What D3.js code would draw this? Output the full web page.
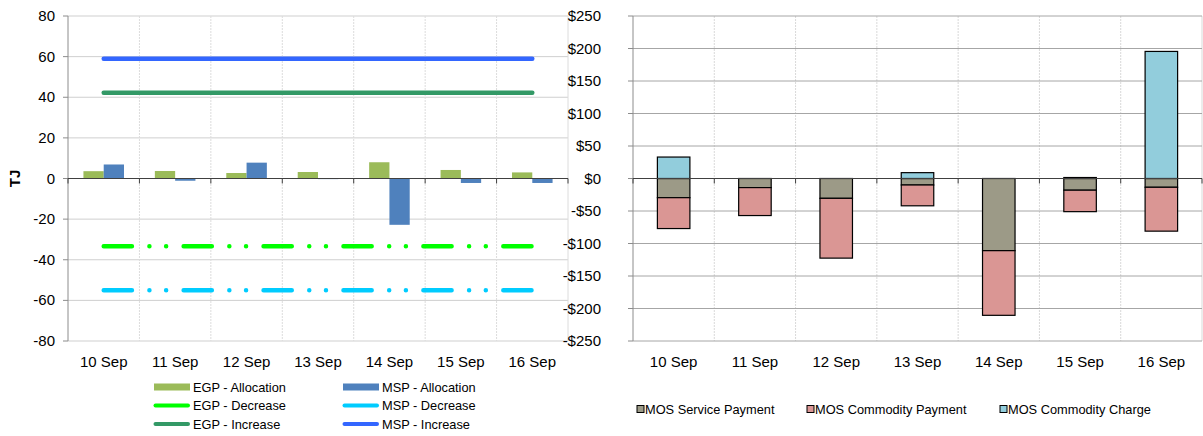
<!DOCTYPE html>
<html>
<head>
<meta charset="utf-8">
<script src="https://cdn.jsdelivr.net/npm/d3@7"></script>
<style>
  body { margin: 0; background: #fff; }
  svg { display: block; font-family: 'Liberation Sans', Arial, sans-serif; }
  .tick { font-size: 15px; fill: #000; }
  .leg { font-size: 12.8px; fill: #000; }
</style>
</head>
<body>
<svg id="chart"></svg>
<script>
const days = ['10 Sep', '11 Sep', '12 Sep', '13 Sep', '14 Sep', '15 Sep', '16 Sep'];

// left chart (TJ)
const egpAllocation = [3.6, 3.7, 2.7, 3.2, 8.0, 4.2, 3.0];
const mspAllocation = [6.9, -1.1, 7.8, -0.3, -22.8, -2.2, -2.2];
const egpDecrease = [-33.4, -33.4, -33.4, -33.4, -33.4, -33.4, -33.4];
const mspDecrease = [-55.0, -55.0, -55.0, -55.0, -55.0, -55.0, -55.0];
const egpIncrease = [42.2, 42.2, 42.2, 42.2, 42.2, 42.2, 42.2];
const mspIncrease = [59.0, 59.0, 59.0, 59.0, 59.0, 59.0, 59.0];
const leftTicks = [-80, -60, -40, -20, 0, 20, 40, 60, 80];

// right chart ($)
const mosServicePayment = [-29.5, -14, -30.5, -10, -111, -18, -13.5];
const mosCommodityPayment = [-47.5, -43, -92, -32, -99.5, -33, -67.5];
const mosCommodityCharge = [33, 0, 0, 9, 0, 1.5, 195.5];
const rightTicks = [-250, -200, -150, -100, -50, 0, 50, 100, 150, 200, 250];

const width = 1203;
const height = 436;

const svg = d3.select('#chart')
  .attr('width', width)
  .attr('height', height);

// ---------- left chart ----------
const xL = d3.scaleBand().domain(days).range([68, 568]);
const yL = d3.scaleLinear().domain([-80, 80]).range([341, 16]);
const left = svg.append('g');

left.selectAll('line.hgrid')
  .data(leftTicks)
  .enter()
  .append('line')
  .attr('x1', 68).attr('x2', 568)
  .attr('y1', d => yL(d)).attr('y2', d => yL(d))
  .attr('stroke', '#cfcfcf')
  .attr('stroke-width', 1);

// category separators
left.selectAll('line.vgrid')
  .data(days.slice(1).concat(['end']))
  .enter()
  .append('line')
  .attr('x1', (d, i) => 68 + (i + 1) * xL.step())
  .attr('x2', (d, i) => 68 + (i + 1) * xL.step())
  .attr('y1', 16).attr('y2', 341)
  .attr('stroke', '#dcdcdc')
  .attr('stroke-dasharray', (d, i) => i === 6 ? null : '2 1');

// y axis
left.append('line')
  .attr('x1', 68).attr('x2', 68).attr('y1', 16).attr('y2', 341)
  .attr('stroke', '#8c8c8c');
left.selectAll('line.ytick')
  .data(leftTicks)
  .enter()
  .append('line')
  .attr('x1', 63).attr('x2', 68)
  .attr('y1', d => yL(d)).attr('y2', d => yL(d))
  .attr('stroke', '#8c8c8c');
left.selectAll('text.ylab')
  .data(leftTicks)
  .enter()
  .append('text')
  .attr('class', 'tick')
  .attr('x', 55)
  .attr('y', d => yL(d) + 5)
  .attr('text-anchor', 'end')
  .text(d => d);

left.append('text')
  .attr('transform', `translate(20, ${yL(0)}) rotate(-90)`)
  .attr('text-anchor', 'middle')
  .style('font-size', '15px')
  .style('font-weight', 'bold')
  .text('TJ');

// bars
const bwL = xL.bandwidth() * 0.284;
left.selectAll('rect.egp')
  .data(egpAllocation)
  .enter()
  .append('rect')
  .attr('x', (d, i) => xL(days[i]) + xL.bandwidth() / 2 - bwL)
  .attr('width', bwL)
  .attr('y', d => Math.min(yL(d), yL(0)))
  .attr('height', d => Math.abs(yL(d) - yL(0)))
  .attr('fill', '#9bbb59');
left.selectAll('rect.msp')
  .data(mspAllocation)
  .enter()
  .append('rect')
  .attr('x', (d, i) => xL(days[i]) + xL.bandwidth() / 2)
  .attr('width', bwL)
  .attr('y', d => Math.min(yL(d), yL(0)))
  .attr('height', d => Math.abs(yL(d) - yL(0)))
  .attr('fill', '#4f81bd');

// zero axis
left.append('line')
  .attr('x1', 68).attr('x2', 568).attr('y1', yL(0)).attr('y2', yL(0))
  .attr('stroke', '#404040');
left.selectAll('line.xtick')
  .data(d3.range(8))
  .enter()
  .append('line')
  .attr('x1', d => 68 + d * xL.step()).attr('x2', d => 68 + d * xL.step())
  .attr('y1', yL(0)).attr('y2', yL(0) + 5)
  .attr('stroke', '#404040');

// lines
const dashDot = '28.2 17.5 0.01 16.7 0.01 17.5';
const lineL = d3.line()
  .x((d, i) => xL(days[i]) + xL.bandwidth() / 2)
  .y(d => yL(d));
const lineSeries = [
  { name: 'EGP - Decrease', values: egpDecrease, color: '#00ff00', dash: dashDot },
  { name: 'MSP - Decrease', values: mspDecrease, color: '#00ccff', dash: dashDot },
  { name: 'EGP - Increase', values: egpIncrease, color: '#339966', dash: null },
  { name: 'MSP - Increase', values: mspIncrease, color: '#3366ff', dash: null }
];
left.selectAll('path.series')
  .data(lineSeries)
  .enter()
  .append('path')
  .attr('d', d => lineL(d.values))
  .attr('fill', 'none')
  .attr('stroke', d => d.color)
  .attr('stroke-width', 4.5)
  .attr('stroke-linecap', 'round')
  .attr('stroke-dasharray', d => d.dash);

left.selectAll('text.xlab')
  .data(days)
  .enter()
  .append('text')
  .attr('class', 'tick')
  .attr('x', d => xL(d) + xL.bandwidth() / 2)
  .attr('y', 367)
  .attr('text-anchor', 'middle')
  .text(d => d);

// left legend
const legL = [
  { name: 'EGP - Allocation', color: '#9bbb59', type: 'bar', col: 0, row: 0 },
  { name: 'MSP - Allocation', color: '#4f81bd', type: 'bar', col: 1, row: 0 },
  { name: 'EGP - Decrease', color: '#00ff00', type: 'line', col: 0, row: 1 },
  { name: 'MSP - Decrease', color: '#00ccff', type: 'line', col: 1, row: 1 },
  { name: 'EGP - Increase', color: '#339966', type: 'line', col: 0, row: 2 },
  { name: 'MSP - Increase', color: '#3366ff', type: 'line', col: 1, row: 2 }
];
const legG = left.selectAll('g.leg')
  .data(legL)
  .enter()
  .append('g')
  .attr('transform', d => `translate(${154 + d.col * 189}, ${387 + d.row * 18.5})`);
legG.filter(d => d.type === 'bar')
  .append('rect')
  .attr('x', 0).attr('y', -3.5).attr('width', 36).attr('height', 7)
  .attr('fill', d => d.color);
legG.filter(d => d.type === 'line')
  .append('line')
  .attr('x1', 1.5).attr('x2', 34).attr('y1', 0).attr('y2', 0)
  .attr('stroke', d => d.color)
  .attr('stroke-width', 4)
  .attr('stroke-linecap', 'round');
legG.append('text')
  .attr('class', 'leg')
  .attr('x', 39)
  .attr('y', 4.5)
  .text(d => d.name);

// ---------- right chart ----------
const xR = d3.scaleBand().domain(days).range([633, 1202]);
const yR = d3.scaleLinear().domain([-250, 250]).range([341, 16]);
const right = svg.append('g');

right.selectAll('line.vgrid')
  .data(d3.range(1, 8))
  .enter()
  .append('line')
  .attr('x1', d => 633 + d * xR.step()).attr('x2', d => 633 + d * xR.step())
  .attr('y1', 16).attr('y2', 341)
  .attr('stroke', '#d9d9d9')
  .attr('stroke-dasharray', d => d === 7 ? null : '2 1');
right.selectAll('line.hgrid')
  .data(rightTicks)
  .enter()
  .append('line')
  .attr('x1', 633).attr('x2', 1202)
  .attr('y1', d => yR(d)).attr('y2', d => yR(d))
  .attr('stroke', '#a6a6a6');

right.append('line')
  .attr('x1', 633).attr('x2', 633).attr('y1', 16).attr('y2', 341)
  .attr('stroke', '#8c8c8c');
right.selectAll('line.ytick')
  .data(rightTicks)
  .enter()
  .append('line')
  .attr('x1', 628).attr('x2', 633)
  .attr('y1', d => yR(d)).attr('y2', d => yR(d))
  .attr('stroke', '#8c8c8c');
const fmtMoney = v => (v < 0 ? '-$' : '$') + Math.abs(v);
right.selectAll('text.ylab')
  .data(rightTicks)
  .enter()
  .append('text')
  .attr('class', 'tick')
  .attr('x', 601)
  .attr('y', d => yR(d) + 5)
  .attr('text-anchor', 'end')
  .text(fmtMoney);

const mosKeys = ['service', 'payment', 'charge'];
const mosColors = { service: '#9c9a87', payment: '#da9694', charge: '#92cddc' };
const mosNames = { service: 'MOS Service Payment', payment: 'MOS Commodity Payment', charge: 'MOS Commodity Charge' };
const mosTable = days.map((d, i) => ({
  day: d,
  service: mosServicePayment[i],
  payment: mosCommodityPayment[i],
  charge: mosCommodityCharge[i]
}));
const stacked = d3.stack().keys(mosKeys).offset(d3.stackOffsetDiverging)(mosTable);

const bwR = xR.bandwidth() * 0.4;
right.selectAll('g.layer')
  .data(stacked)
  .enter()
  .append('g')
  .attr('fill', d => mosColors[d.key])
  .selectAll('rect')
  .data(d => d.filter(p => p[1] !== p[0]))
  .enter()
  .append('rect')
  .attr('x', d => xR(d.data.day) + (xR.bandwidth() - bwR) / 2)
  .attr('width', bwR)
  .attr('y', d => yR(Math.max(d[0], d[1])))
  .attr('height', d => Math.abs(yR(d[0]) - yR(d[1])))
  .attr('stroke', '#000')
  .attr('stroke-width', 1.2);

right.append('line')
  .attr('x1', 633).attr('x2', 1202).attr('y1', yR(0)).attr('y2', yR(0))
  .attr('stroke', '#404040');
right.selectAll('line.xtick')
  .data(d3.range(8))
  .enter()
  .append('line')
  .attr('x1', d => 633 + d * xR.step()).attr('x2', d => 633 + d * xR.step())
  .attr('y1', yR(0)).attr('y2', yR(0) + 5)
  .attr('stroke', '#404040');

right.selectAll('text.xlab')
  .data(days)
  .enter()
  .append('text')
  .attr('class', 'tick')
  .attr('x', d => xR(d) + xR.bandwidth() / 2)
  .attr('y', 367)
  .attr('text-anchor', 'middle')
  .text(d => d);

// right legend
const legR = right.selectAll('g.legr')
  .data(mosKeys)
  .enter()
  .append('g')
  .attr('transform', (d, i) => `translate(${[637, 807, 1000][i]}, 409)`);
legR.append('rect')
  .attr('x', 0).attr('y', -3.5).attr('width', 7).attr('height', 7)
  .attr('fill', d => mosColors[d])
  .attr('stroke', '#000')
  .attr('stroke-width', 1);
legR.append('text')
  .attr('class', 'leg')
  .attr('x', 8)
  .attr('y', 4.5)
  .text(d => mosNames[d]);
</script>
</body>
</html>
